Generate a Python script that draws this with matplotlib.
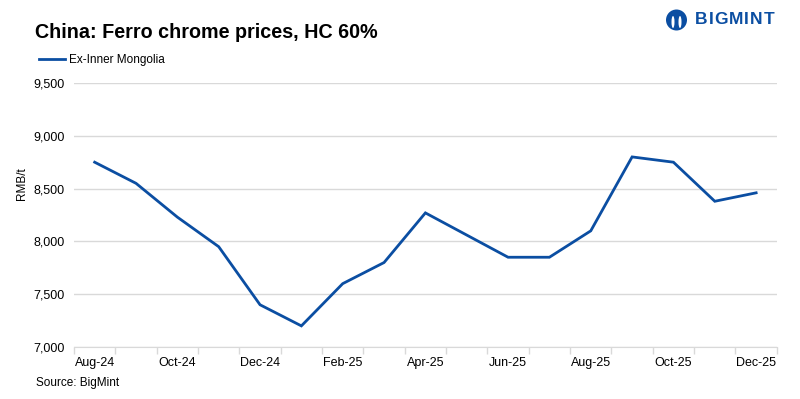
import matplotlib.pyplot as plt
from matplotlib.lines import Line2D
from matplotlib.patches import Circle, Ellipse

plt.rcParams['font.family'] = ['Liberation Sans', 'DejaVu Sans']

# Monthly prices, RMB/t
MONTHS = ["Aug-24", "Sep-24", "Oct-24", "Nov-24", "Dec-24", "Jan-25", "Feb-25",
          "Mar-25", "Apr-25", "May-25", "Jun-25", "Jul-25", "Aug-25", "Sep-25",
          "Oct-25", "Nov-25", "Dec-25"]
PRICES = [8750, 8550, 8230, 7950, 7400, 7200, 7600, 7800, 8270, 8060,
          7850, 7850, 8100, 8800, 8750, 8380, 8460]
Y_TICKS = [7000, 7500, 8000, 8500, 9000, 9500]

LINE_COLOR = "#0b4ea2"
GRID_COLOR = "#d9d9d9"

fig = plt.figure(figsize=(8, 3.99), dpi=100)
ax = fig.add_axes([0.0925, 0.1303, 0.8785, 0.6617])

x = list(range(len(MONTHS)))
ax.plot(x, PRICES, color=LINE_COLOR, linewidth=2, solid_joinstyle='miter')

ax.set_xlim(-0.5, len(MONTHS) - 0.5)
ax.set_ylim(Y_TICKS[0], Y_TICKS[-1])
ax.set_yticks(Y_TICKS)
ax.set_yticklabels([f"{v:,}" for v in Y_TICKS], fontsize=9)
ax.set_xticks(x[::2])
ax.set_xticklabels(MONTHS[::2], fontsize=9)
ax.set_xticks([i - 0.5 for i in range(len(MONTHS) + 1)], minor=True)
ax.tick_params(axis='x', which='major', length=0, pad=7)
ax.tick_params(axis='x', which='minor', length=5, color=GRID_COLOR, width=1)
ax.tick_params(axis='y', length=0, pad=7)

ax.grid(axis='y', color=GRID_COLOR, linewidth=1)
ax.set_axisbelow(True)
for side in ['top', 'right', 'left']:
    ax.spines[side].set_visible(False)
ax.spines['bottom'].set_color(GRID_COLOR)

ax.set_ylabel("RMB/t", fontsize=8.5)
ax.yaxis.set_label_coords(-0.065, 0.62)

fig.text(0.044, 0.918, "China: Ferro chrome prices, HC 60%", fontsize=14.2,
         fontweight='bold', va='center')

handle = Line2D([], [], color=LINE_COLOR, linewidth=2)
fig.legend([handle], ["Ex-Inner Mongolia"], loc='center left',
           bbox_to_anchor=(0.035, 0.85), frameon=False, fontsize=8.5,
           handlelength=2.2, handletextpad=0.4)

fig.text(0.045, 0.04, "Source: BigMint", fontsize=8.5, va='center')

# logo: round icon plus spaced letters
tr = fig.dpi_scale_trans
fig.patches.append(Circle((6.765, 3.79), 0.105, transform=tr,
                          facecolor=LINE_COLOR, edgecolor='none'))
for dx in (-0.035, 0.035):
    fig.patches.append(Ellipse((6.765 + dx, 3.77), 0.03, 0.12, transform=tr,
                               facecolor='white', edgecolor='none'))
for i, ch in enumerate("BIGMINT"):
    widths = [0, 0.135, 0.195, 0.335, 0.49, 0.55, 0.69]
    fig.text((6.95 + widths[i]) / 8, 3.79 / 3.99, ch, fontsize=12.5,
             fontweight='bold', color=LINE_COLOR, va='center')

fig.savefig("out.png", dpi=100)
